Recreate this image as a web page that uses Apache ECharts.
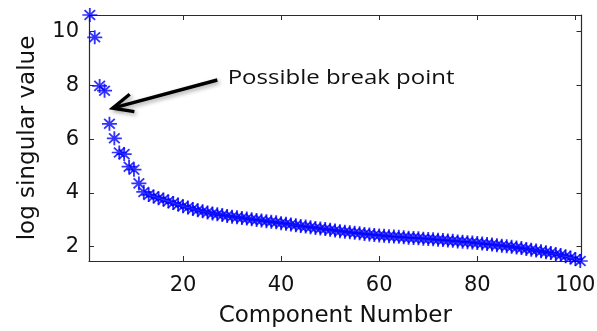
<!DOCTYPE html>
<html>
<head>
<meta charset="utf-8">
<script src="https://cdn.jsdelivr.net/npm/echarts@6/dist/echarts.min.js"></script>
<style>
  html, body { margin: 0; padding: 0; background: #ffffff; }
  #chart { width: 597px; height: 331px; }
</style>
</head>
<body>
<div id="chart"></div>
<script>
// Log singular values, one per component (component numbers start at 1)
const logSingularValues = [
  10.62, 9.79, 7.98, 7.80, 6.57, 6.03, 5.50, 5.44, 4.97, 4.86,
  4.35, 4.03, 3.92, 3.86, 3.80, 3.75, 3.68, 3.62, 3.56, 3.50,
  3.45, 3.40, 3.35, 3.31, 3.27, 3.23, 3.20, 3.17, 3.14, 3.11,
  3.09, 3.06, 3.04, 3.01, 2.99, 2.97, 2.94, 2.92, 2.90, 2.87,
  2.85, 2.82, 2.79, 2.76, 2.74, 2.72, 2.69, 2.67, 2.65, 2.62,
  2.60, 2.57, 2.55, 2.53, 2.51, 2.49, 2.47, 2.45, 2.43, 2.41,
  2.40, 2.38, 2.37, 2.36, 2.34, 2.33, 2.32, 2.31, 2.29, 2.28,
  2.27, 2.25, 2.24, 2.22, 2.21, 2.19, 2.18, 2.16, 2.15, 2.13,
  2.11, 2.09, 2.07, 2.05, 2.03, 2.01, 1.99, 1.96, 1.94, 1.91,
  1.88, 1.85, 1.82, 1.79, 1.76, 1.72, 1.68, 1.64, 1.59, 1.53,
  1.46
];
const xTicks = [20, 40, 60, 80, 100];
const yTicks = [2, 4, 6, 8, 10];
const xRange = [0.83, 101.25];
const yRange = [1.46, 10.62];
const xTitle = 'Component Number';
const yTitle = 'log singular value';
const noteText = 'Possible break point';
// annotation anchors in data units: arrow tip, arrow tail, text start
const noteTip = [5.65, 7.15];
const noteTail = [27.0, 8.2];
const noteTextAt = [29.1, 7.9];

const points = logSingularValues.map((v, i) => [i + 1, v]);

const axisColor = '#2b2b2b';
const textColor = '#111111';
const font = 'DejaVu Sans';

// eight-spoke asterisk marker
const asterisk = 'path://M0 6H12M6 0V12M1.76 1.76L10.24 10.24M10.24 1.76L1.76 10.24';

function xAxisDef(pos, labelled) {
  return {
    type: 'value', position: pos, min: xRange[0], max: xRange[1],
    axisLine: { show: true, onZero: false, lineStyle: { color: axisColor, width: 1.2 } },
    axisTick: { show: true, inside: true, length: 5, customValues: xTicks, lineStyle: { color: axisColor } },
    axisLabel: { show: labelled, customValues: xTicks, margin: 14, fontSize: 21, fontFamily: font, color: textColor },
    splitLine: { show: false },
    name: labelled ? xTitle : '', nameLocation: 'middle', nameGap: 44,
    nameTextStyle: { fontSize: 23, fontFamily: font, color: textColor }
  };
}
function yAxisDef(pos, labelled) {
  return {
    type: 'value', position: pos, min: yRange[0], max: yRange[1],
    axisLine: { show: true, onZero: false, lineStyle: { color: axisColor, width: 1.2 } },
    axisTick: { show: true, inside: true, length: 5, customValues: yTicks, lineStyle: { color: axisColor } },
    axisLabel: { show: labelled, customValues: yTicks, margin: 10, fontSize: 21, fontFamily: font, color: textColor },
    splitLine: { show: false },
    name: labelled ? yTitle : '', nameLocation: 'middle', nameGap: 49, nameRotate: 90,
    nameTextStyle: { fontSize: 23, fontFamily: font, color: textColor }
  };
}

const chart = echarts.init(document.getElementById('chart'), null, { renderer: 'canvas' });
chart.setOption({
  animation: false,
  backgroundColor: '#ffffff',
  grid: { left: 89, right: 15.5, top: 15, bottom: 70, outerBoundsMode: 'none' },
  xAxis: [xAxisDef('bottom', true), xAxisDef('top', false)],
  yAxis: [yAxisDef('left', true), yAxisDef('right', false)],
  series: [{
    type: 'scatter',
    xAxisIndex: 0, yAxisIndex: 0,
    data: points,
    symbol: asterisk,
    symbolSize: [15, 14],
    clip: false,
    itemStyle: { color: '#0000ff', borderColor: '#0000ff', borderWidth: 1.8 },
    emphasis: { disabled: true },
    z: 3
  }]
});

// arrow + note, placed through the axis scales
const toPx = (p) => chart.convertToPixel({ xAxisIndex: 0, yAxisIndex: 0 }, p);
const tip = toPx(noteTip);
const tail = toPx(noteTail);
const txt = toPx(noteTextAt);
const ang = Math.atan2(tail[1] - tip[1], tail[0] - tip[0]);
const headLen = 22, headSpread = 0.42;
const armA = [tip[0] + headLen * Math.cos(ang + headSpread), tip[1] + headLen * Math.sin(ang + headSpread)];
const armB = [tip[0] + headLen * Math.cos(ang - headSpread), tip[1] + headLen * Math.sin(ang - headSpread)];
const shadow = { shadowBlur: 4, shadowColor: 'rgba(0,0,0,0.35)', shadowOffsetX: 2, shadowOffsetY: 2 };

chart.setOption({
  graphic: [
    { type: 'line', shape: { x1: tail[0], y1: tail[1], x2: tip[0] + 3 * Math.cos(ang), y2: tip[1] + 3 * Math.sin(ang) },
      style: Object.assign({ stroke: '#000000', lineWidth: 3.4, lineCap: 'butt' }, shadow), z: 10 },
    { type: 'polyline', shape: { points: [armA, tip, armB] },
      style: Object.assign({ stroke: '#000000', fill: null, lineWidth: 3.4, lineJoin: 'miter' }, shadow), z: 10 },
    { type: 'text', x: txt[0], y: txt[1], scaleX: 1.2, originX: 0, originY: 0,
      style: { text: noteText, fontSize: 20, fontFamily: 'Open Sans', fill: '#111111',
               textAlign: 'left', textVerticalAlign: 'bottom' }, z: 10 }
  ]
});
</script>
</body>
</html>
